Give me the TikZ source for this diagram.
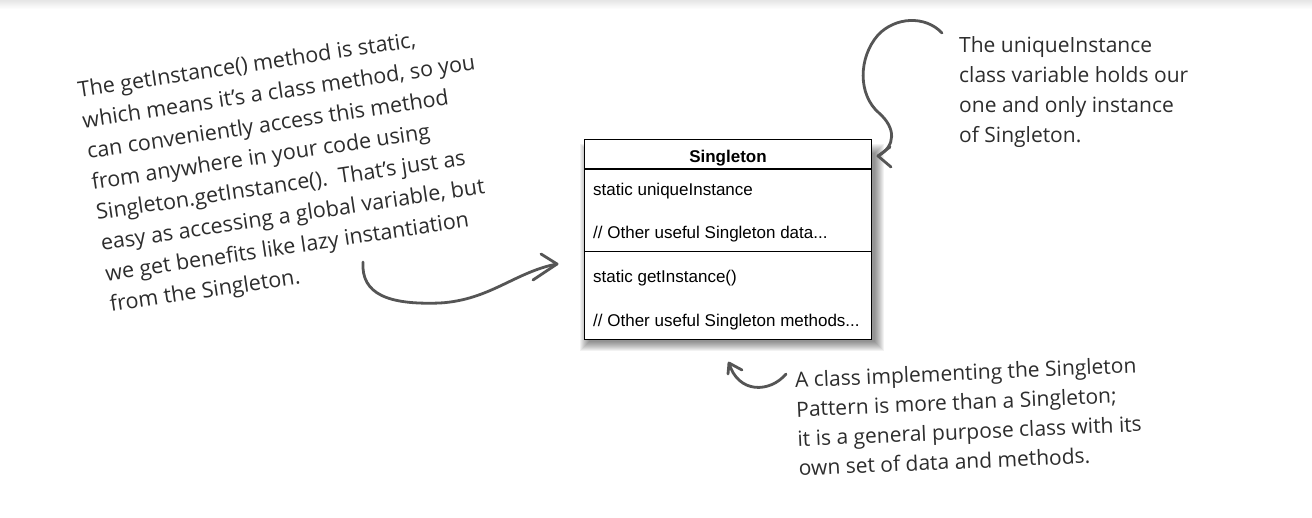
\documentclass[tikz,border=0pt]{standalone}
\usepackage{fontspec}
\setmainfont{Liberation Sans}
\newfontfamily\handfont{Open Sans}
\usetikzlibrary{calc}
\definecolor{inkc}{RGB}{45,45,45}
\definecolor{arrc}{RGB}{85,85,85}
\tikzset{
  cltext/.style={font=\fontsize{17}{20}\selectfont, inner sep=0pt, anchor=base west, text=black},
  cltitle/.style={font=\fontsize{17}{20}\selectfont\bfseries, inner sep=0pt, anchor=base, text=black},
  note/.style={inner sep=0pt, anchor=base west, align=left, text=inkc},
  pen/.style={draw=arrc, line width=2.8pt, line cap=round, line join=round},
}
\begin{document}
\begin{tikzpicture}[x=1pt,y=-1pt]
\useasboundingbox (0,0) rectangle (1312,518);
\fill[white] (0,0) rectangle (1312,518);
\shade[top color=black!10, bottom color=white] (0,0) rectangle (1312,9);

% shadow of the class box
\foreach \i in {0,...,9}{
  \fill[black, opacity=0.05] (580+\i, 144+\i) rectangle (884-\i, 351-\i);
}
% class box
\node[draw=black, line width=1.2pt, fill=white, minimum width=287pt, minimum height=200pt,
      inner sep=0pt, anchor=north west] (cls) at (584,139) {};
\draw[line width=1.2pt] ([yshift=-30pt]cls.north west) -- ([yshift=-30pt]cls.north east);
\draw[line width=1.2pt] ([yshift=-112.5pt]cls.north west) -- ([yshift=-112.5pt]cls.north east);

\node[cltitle] (ttl) at (728,163) {Singleton};
\node[cltext] (m1) at (593,196) {static uniqueInstance};
\node[cltext] (m2) at (593,239) {// Other useful Singleton data...};
\node[cltext] (m3) at (593,283) {static getInstance()};
\node[cltext] (m4) at (593,327) {// Other useful Singleton methods...};

% left note (anchor = baseline of the last line)
\node[note, rotate=8.5, font=\handfont\fontsize{21.5}{31}\selectfont] (ln) at (111,312)
  {The getInstance() method is static,\\
   which means it’s a class method, so you\\
   can conveniently access this method\\
   from anywhere in your code using\\
   Singleton.getInstance().\ \ That’s just as\\
   easy as accessing a global variable, but\\
   we get benefits like lazy instantiation\\
   from the Singleton.};

% top right note
\node[note, font=\handfont\fontsize{21}{30}\selectfont] (rn) at (959,143)
  {The uniqueInstance\\
   class variable holds our\\
   one and only instance\\
   of Singleton.};

% bottom note
\node[note, rotate=2.5, font=\handfont\fontsize{21}{29.5}\selectfont] (bn) at (799,476)
  {A class implementing the Singleton\\
   Pattern is more than a Singleton;\\
   it is a general purpose class with its\\
   own set of data and methods.};

% arrow 1 (left note to class box)
\coordinate (s1) at (363,262);
\coordinate (t1) at (557,264);
\draw[pen] (s1) .. controls (361,294) and (388,305) .. (440,303)
               .. controls (490,300) and (515,272) .. (t1);
\draw[pen] ($(t1)+(-16,-10)$) -- (t1) -- ($(t1)+(-24,16)$);

% arrow 2 (top right note to class box)
\coordinate (s2) at (942,33);
\coordinate (t2) at (878,156);
\draw[pen] (s2) .. controls (925,15) and (895,17) .. (878,35)
               .. controls (858,58) and (858,95) .. (879,113)
               .. controls (896,128) and (896,146) .. (t2);
\draw[pen] ($(t2)+(12,-9)$) -- (t2) -- ($(t2)+(13,11)$);

% arrow 3 (bottom note)
\coordinate (s3) at (786,374);
\coordinate (t3) at (729,363);
\draw[pen] (s3) .. controls (770,393) and (738,394) .. (t3);
\draw[pen] ($(t3)+(-1,11)$) -- (t3) -- ($(t3)+(13,7)$);
\end{tikzpicture}
\end{document}
